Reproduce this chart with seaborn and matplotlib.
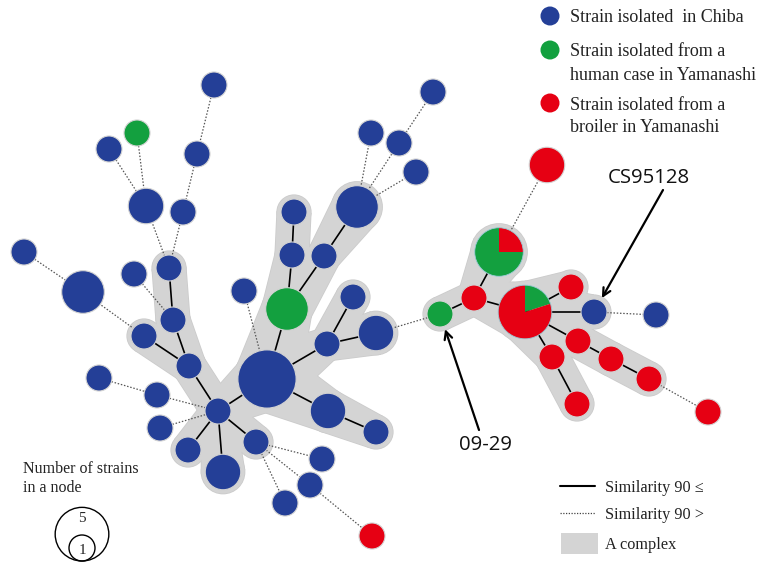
import numpy as np
import pandas as pd
import matplotlib
matplotlib.use("Agg")
import matplotlib.pyplot as plt
from matplotlib.patches import Circle, Wedge, Polygon, Rectangle
import seaborn as sns

# ---------------------------------------------------------------------------
# Minimum spanning tree of strains: node layout, strain counts per origin
# ---------------------------------------------------------------------------
node_x = [214, 137, 109, 197, 146, 183, 24, 83, 134, 169,
          173, 144, 244, 189, 218, 267, 99, 157, 160, 188,
          223, 256, 322, 310, 285, 372, 287, 292, 294, 324,
          357, 371, 399, 416, 433, 327, 353, 376, 328, 376,
          440, 474, 499, 547, 525, 571, 594, 656, 578, 611,
          649, 708, 552, 577]
node_y = [85, 133, 149, 154, 206, 212, 252, 292, 274, 268,
          320, 336, 291, 366, 411, 379, 378, 395, 428, 450,
          472, 442, 459, 485, 503, 536, 309, 255, 212, 256,
          207, 133, 143, 172, 92, 344, 297, 333, 411, 432,
          314, 298, 252, 165, 312, 287, 312, 315, 341, 359,
          379, 412, 357, 404]
# strains per node by source
chiba = [1, 0, 1, 1, 2, 1, 1, 3, 1, 1,
         1, 1, 1, 1, 1, 6, 1, 1, 1, 1,
         2, 1, 1, 1, 1, 0, 0, 1, 1, 1,
         3, 1, 1, 1, 1, 1, 1, 2, 2, 1,
         0, 0, 0, 0, 0, 0, 1, 1, 0, 0,
         0, 0, 0, 0]
human = [0, 1, 0, 0, 0, 0, 0, 0, 0, 0,
         0, 0, 0, 0, 0, 0, 0, 0, 0, 0,
         0, 0, 0, 0, 0, 0, 3, 0, 0, 0,
         0, 0, 0, 0, 0, 0, 0, 0, 0, 0,
         1, 0, 3, 0, 1, 0, 0, 0, 0, 0,
         0, 0, 0, 0]
broiler = [0, 0, 0, 0, 0, 0, 0, 0, 0, 0,
           0, 0, 0, 0, 0, 0, 0, 0, 0, 0,
           0, 0, 0, 0, 0, 1, 0, 0, 0, 0,
           0, 0, 0, 0, 0, 0, 0, 0, 0, 0,
           0, 1, 1, 2, 4, 1, 0, 0, 1, 1,
           1, 1, 1, 1]

# links with similarity >= 90 (solid) and < 90 (dotted)
close_links = [(9, 10), (10, 13), (11, 13), (13, 14), (14, 15), (14, 19),
               (14, 20), (14, 21), (15, 26), (26, 27), (27, 28), (26, 29),
               (29, 30), (15, 35), (35, 36), (35, 37), (15, 38), (38, 39),
               (40, 41), (41, 42), (41, 44), (44, 45), (44, 46), (44, 48),
               (48, 49), (49, 50), (44, 52), (52, 53)]
far_links = [(0, 3), (1, 4), (2, 4), (4, 9), (3, 5), (5, 9), (6, 7), (7, 11),
             (8, 10), (12, 15), (16, 17), (17, 14), (18, 14), (21, 22),
             (21, 23), (21, 24), (23, 25), (30, 31), (30, 32), (30, 33),
             (32, 34), (37, 40), (42, 43), (46, 47), (50, 51)]

origins = ["Chiba", "Human", "Broiler"]
legend_labels = ["Strain isolated  in Chiba",
                 ["Strain isolated from a", "human case in Yamanashi"],
                 ["Strain isolated from a", "broiler in Yamanashi"]]
line_legend = ["Similarity 90 \u2264", "Similarity 90 >", "A complex"]
callouts = [("CS95128", 46), ("09-29", 40)]

# ---------------------------------------------------------------------------
palette = {"Chiba": "#243F97", "Human": "#13A03F", "Broiler": "#E60013"}
shade = "#D4D4D4"
PX2PT = 0.72  # one pixel in points at 100 dpi


def radius(n):
    return 13.0 * n ** 0.45


sns.set_theme(style="white")
plt.rcParams["font.family"] = ["Liberation Serif", "DejaVu Serif"]

fig = plt.figure(figsize=(7.62, 5.65), dpi=100)
ax = fig.add_axes([0, 0, 1, 1])

xy = np.column_stack([node_x, node_y]).astype(float)
counts = np.column_stack([chiba, human, broiler])
total = counts.sum(axis=1)
rad = np.array([radius(n) for n in total])


def link_band(a, b, pad):
    p, q = xy[a], xy[b]
    d = q - p
    nrm = np.array([-d[1], d[0]]) / np.hypot(*d)
    ra, rb = rad[a] + pad, rad[b] + pad
    return [p + nrm * ra, q + nrm * rb, q - nrm * rb, p - nrm * ra]


# grey complexes around the closely related strains
members = sorted({i for e in close_links for i in e})
for pad, col in ((4.6, "#CBCBCB"), (3.8, shade)):
    for a, b in close_links:
        ax.add_patch(Polygon(link_band(a, b, pad), closed=True, fc=col,
                             ec="none", zorder=1))
    for i in members:
        ax.add_patch(Circle(xy[i], rad[i] + pad, fc=col, ec="none", zorder=1))

# links
for a, b in close_links:
    ax.plot(*zip(xy[a], xy[b]), color="black", lw=1.2, zorder=2,
            solid_capstyle="butt")
for a, b in far_links:
    ax.plot(*zip(xy[a], xy[b]), color="#555555", lw=0.9, zorder=2,
            linestyle=(0, (1.2, 1.4)))

# single-source nodes
single = (counts > 0).sum(axis=1) == 1
df = pd.DataFrame({"x": xy[single, 0], "y": xy[single, 1],
                   "origin": [origins[int(np.argmax(c))] for c in counts[single]],
                   "n": total[single]})
size_map = {n: (2 * radius(n) * PX2PT) ** 2 for n in sorted(df["n"].unique())}
sns.scatterplot(data=df, x="x", y="y", hue="origin", size="n", sizes=size_map,
                palette=palette, edgecolor="#D2D2D2", linewidth=0.8,
                legend=False, ax=ax, zorder=3)

# mixed nodes as pies, smallest share first, clockwise from the top
for i in np.where(~single)[0]:
    parts = [(counts[i, k], origins[k]) for k in range(3) if counts[i, k] > 0]
    parts.sort()
    start = -90.0
    for c, org in parts:
        sweep = 360.0 * c / total[i]
        ax.add_patch(Wedge(xy[i], rad[i], start, start + sweep,
                           fc=palette[org], ec="none", zorder=3))
        start += sweep
    ax.add_patch(Circle(xy[i], rad[i], fc="none", ec="#9ACBD6", lw=0.6,
                        zorder=3))

# callout labels
label_pos = {"CS95128": ((649, 178), (663, 190)),
             "09-29": ((486, 445), (479, 430))}
for text, idx in callouts:
    (tx, ty), tail = label_pos[text]
    ax.text(tx, ty, text, fontsize=14.7, family=["Open Sans", "DejaVu Sans"],
            ha="center", va="center", color="#111111", zorder=5)
    tip = xy[idx] + (tail - xy[idx]) / np.hypot(*(tail - xy[idx])) * (rad[idx] + 3)
    ax.annotate("", xy=tip, xytext=tail,
                arrowprops=dict(arrowstyle="->", color="black", lw=1.6,
                                mutation_scale=14, shrinkA=0, shrinkB=0),
                zorder=5)

# source legend
leg_y = [16, 50, 103]
sns.scatterplot(x=[550] * 3, y=leg_y, hue=origins, palette=palette,
                s=(2 * 9.5 * PX2PT) ** 2, edgecolor="none", legend=False,
                ax=ax, zorder=3)
for y0, lab in zip(leg_y, legend_labels):
    lines = [lab] if isinstance(lab, str) else lab
    for k, line in enumerate(lines):
        ax.text(570, y0 + 23 * k, line, fontsize=13, ha="left",
                va="center_baseline", color="#222222")

# link / complex legend
ax.plot([560, 595], [486, 486], color="black", lw=1.5)
ax.plot([560, 595], [513, 513], color="#444444", lw=0.9,
        linestyle=(0, (1, 1.2)))
ax.add_patch(Rectangle((561, 533), 37, 21, fc=shade, ec="none"))
for y0, lab in zip([486, 513, 543], line_legend):
    ax.text(605, y0, lab, fontsize=11.7, ha="left", va="center_baseline",
            color="#222222")

# node size legend
ax.text(23, 467, "Number of strains", fontsize=11.5, ha="left",
        va="center_baseline", color="#222222")
ax.text(23, 486, "in a node", fontsize=11.5, ha="left",
        va="center_baseline", color="#222222")
big_c = np.array([82.0, 561 - radius(5)])
small_c = np.array([82.0, 561 - radius(1)])
ax.add_patch(Circle(big_c, radius(5), fc="none", ec="black", lw=1.0))
ax.add_patch(Circle(small_c, radius(1), fc="none", ec="black", lw=1.0))
ax.text(82, 517, "5", fontsize=11, ha="center", va="center_baseline")
ax.text(82, small_c[1] + 1, "1", fontsize=11, ha="center", va="center_baseline")

ax.set_xlim(0, 762)
ax.set_ylim(565, 0)
ax.set_aspect("equal")
ax.axis("off")
fig.savefig("out.png", dpi=100, facecolor="white")
